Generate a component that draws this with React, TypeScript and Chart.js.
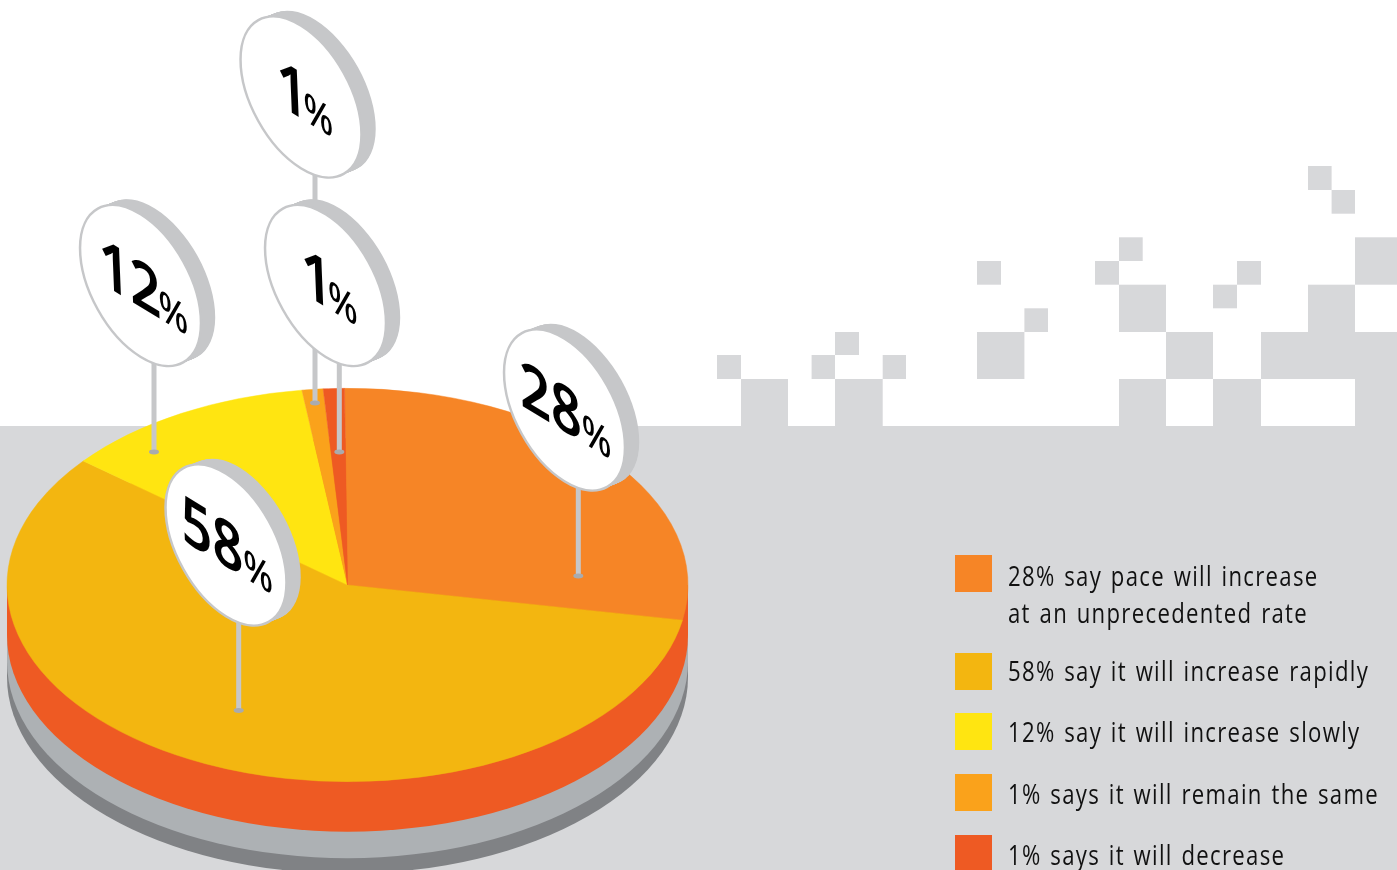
import React, { useEffect, useRef } from "react";
import { Chart, registerables } from "chart.js";

Chart.register(...registerables);

// Survey shares, clockwise from twelve o'clock
const sliceNames = ["Unprecedented", "Rapidly", "Slowly", "Remain the same", "Decrease"];
const sliceValues = [28, 58, 12, 1, 1];
const sliceColors = ["#F68526", "#F3B610", "#FFE511", "#FAA21B", "#EE5A23"];

const legendLines = [
  ["28% say pace will increase", "at an unprecedented rate"],
  ["58% say it will increase rapidly"],
  ["12% say it will increase slowly"],
  ["1% says it will remain the same"],
  ["1% says it will decrease"],
];

// Layout of the page furniture
const LEGEND_SWATCH_TOPS = [555, 653, 713, 774, 835];
const LEGEND_LINE_CENTERS = [[576, 613], [671], [732], [794], [855]];

const BAND_TOP = 426;
const BAND_COLOR = "#D7D8DA";
const SKYLINE: number[][] = [
  [717, 355, 741, 379], [811.6, 355, 835, 379], [835, 332, 859, 355], [882.7, 355, 906, 379],
  [977, 261, 1001, 284.7], [1024.4, 308.3, 1048, 332], [1095, 261, 1119, 284.7],
  [1119, 237.3, 1142.7, 261], [1213, 284.7, 1237, 308.3], [1237, 261, 1261, 284.7],
  [1308, 166, 1331.6, 190], [1331.6, 190, 1355, 213.7],
  [741, 379, 788, 426], [835, 379, 882.7, 426], [977, 332, 1024.4, 379], [1119, 284.7, 1166, 332],
  [1166, 332, 1213, 379], [1119, 379, 1166, 426], [1213, 379, 1261, 426], [1261, 332, 1397, 379],
  [1308, 284.7, 1355, 332], [1355, 237.3, 1397, 284.7], [1355, 379, 1397, 426],
];

const TILT = 0.5775; // vertical squash of the pie's top face
const RIM_LAYERS = [
  { depth: 92, color: "#808285" },
  { depth: 76.5, color: "#ADB1B4" },
  { depth: 50, color: "#EE5A23" },
];

// Lollipop signs: the slice index they name, disc centre, stem x, stem foot y,
// and the label's nudge and digit-to-percent kerning along its baseline.
const SIGNS = [
  { slice: 3, cx: 301, cy: 97, stemX: 315, footY: 403, nudge: 8, kern: -5 },
  { slice: 4, cx: 325.5, cy: 285.5, stemX: 339.3, footY: 452, nudge: 8, kern: -5 },
  { slice: 2, cx: 140.5, cy: 285.5, stemX: 154, footY: 452, nudge: 6, kern: -3 },
  { slice: 0, cx: 564.5, cy: 410, stemX: 578.3, footY: 576, nudge: 2, kern: 0 },
  { slice: 1, cx: 226, cy: 545, stemX: 238.7, footY: 710.5, nudge: 2, kern: 0 },
];
const SIGN_GRAY = "#C6C7C9";

function discPath(ctx: CanvasRenderingContext2D, x: number, y: number) {
  ctx.beginPath();
  ctx.ellipse(x, y, 88, 49, (61 * Math.PI) / 180, 0, Math.PI * 2);
}

function drawSign(ctx: CanvasRenderingContext2D, sign: (typeof SIGNS)[number]) {
  const { cx, cy, stemX, footY, nudge, kern } = sign;

  // stem and its foot
  ctx.fillStyle = SIGN_GRAY;
  ctx.fillRect(stemX - 2.5, cy, 5, footY - cy);
  ctx.fillStyle = "#A9ABAE";
  ctx.beginPath();
  ctx.ellipse(stemX, footY, 5, 2.4, 0, 0, Math.PI * 2);
  ctx.fill();

  // thickness of the disc, swept up and to the right
  ctx.fillStyle = SIGN_GRAY;
  for (let t = 0; t <= 1; t += 0.05) {
    discPath(ctx, cx + 15 * t, cy - 6 * t);
    ctx.fill();
  }

  // disc face
  discPath(ctx, cx, cy);
  ctx.fillStyle = "#FFFFFF";
  ctx.fill();
  ctx.lineWidth = 2.5;
  ctx.strokeStyle = SIGN_GRAY;
  ctx.stroke();

  // sheared label lying on the disc
  const digits = String(sliceValues[sign.slice]);
  ctx.save();
  ctx.transform(0.82, 0.5, 0.04, 1, cx, cy);
  ctx.fillStyle = "#000000";
  ctx.textBaseline = "alphabetic";
  ctx.textAlign = "left";
  const bigFont = '600 66px "Noto Sans"';
  const smallFont = '500 42px "Noto Sans"';
  ctx.font = bigFont;
  const bigWidth = ctx.measureText(digits).width;
  ctx.font = smallFont;
  const smallWidth = ctx.measureText("%").width;
  const x0 = -(bigWidth + smallWidth) / 2 - 1 + nudge;
  ctx.font = bigFont;
  ctx.fillText(digits, x0, 22);
  ctx.font = smallFont;
  ctx.fillText("%", x0 + bigWidth + kern, 22);
  ctx.restore();
}

const isoPiePlugin = {
  id: "isoPie",
  beforeDraw(chart: any) {
    const { ctx, width, height } = chart;
    ctx.save();
    ctx.fillStyle = "#FFFFFF";
    ctx.fillRect(0, 0, width, height);
    ctx.fillStyle = BAND_COLOR;
    ctx.fillRect(0, BAND_TOP, width, height - BAND_TOP);
    SKYLINE.forEach(([x0, y0, x1, y1]) => ctx.fillRect(x0, y0, x1 - x0, y1 - y0));

    // stacked cylinder rims under the top face
    const arc = chart.getDatasetMeta(0).data[0];
    const rx = arc.outerRadius;
    const ry = rx * TILT;
    RIM_LAYERS.forEach(({ depth, color }) => {
      ctx.fillStyle = color;
      ctx.beginPath();
      ctx.ellipse(arc.x, arc.y + depth, rx, ry, 0, 0, Math.PI * 2);
      ctx.fill();
      ctx.fillRect(arc.x - rx, arc.y, rx * 2, depth);
    });
    ctx.restore();
  },
  beforeDatasetsDraw(chart: any) {
    const { ctx } = chart;
    const cy = chart.getDatasetMeta(0).data[0].y;
    ctx.save();
    ctx.translate(0, cy);
    ctx.scale(1, TILT);
    ctx.translate(0, -cy);
  },
  afterDatasetsDraw(chart: any) {
    chart.ctx.restore();
  },
  afterDraw(chart: any) {
    const { ctx } = chart;
    ctx.save();
    SIGNS.forEach((sign) => drawSign(ctx, sign));
    ctx.restore();
  },
};

export default function App() {
  const canvasRef = useRef<HTMLCanvasElement | null>(null);

  useEffect(() => {
    document.body.style.margin = "0";
    const chart = new Chart(canvasRef.current as HTMLCanvasElement, {
      type: "pie",
      data: {
        labels: sliceNames,
        datasets: [
          {
            data: sliceValues,
            backgroundColor: sliceColors,
            borderColor: sliceColors,
            borderWidth: 0.6,
            radius: 340.5,
            clip: false,
          } as any,
        ],
      },
      options: {
        responsive: false,
        animation: false,
        events: [],
        rotation: -0.5,
        layout: { padding: { left: 0, right: 702, top: 300, bottom: 0 } },
        plugins: { legend: { display: false }, tooltip: { enabled: false } },
      },
      plugins: [isoPiePlugin],
    });
    return () => chart.destroy();
  }, []);

  return (
    <div style={{ position: "fixed", left: 0, top: 0, width: 1397, height: 870, overflow: "hidden" }}>
      <canvas ref={canvasRef} width={1397} height={870} style={{ display: "block" }} />
      {sliceColors.map((color, i) => (
        <div
          key={`swatch-${i}`}
          style={{ position: "absolute", left: 955, top: LEGEND_SWATCH_TOPS[i], width: 37, height: 37, background: color }}
        />
      ))}
      {legendLines.map((lines, i) =>
        lines.map((line, j) => (
          <div
            key={`line-${i}-${j}`}
            style={{
              position: "absolute",
              left: 1008,
              top: LEGEND_LINE_CENTERS[i][j] - 20,
              height: 40,
              lineHeight: "40px",
              whiteSpace: "nowrap",
              fontFamily: '"Open Sans"',
              fontSize: 27,
              letterSpacing: 1.6,
              wordSpacing: 2,
              color: "#111111",
              transform: "scaleX(0.82)",
              transformOrigin: "left center",
            }}
          >
            {line}
          </div>
        ))
      )}
    </div>
  );
}
